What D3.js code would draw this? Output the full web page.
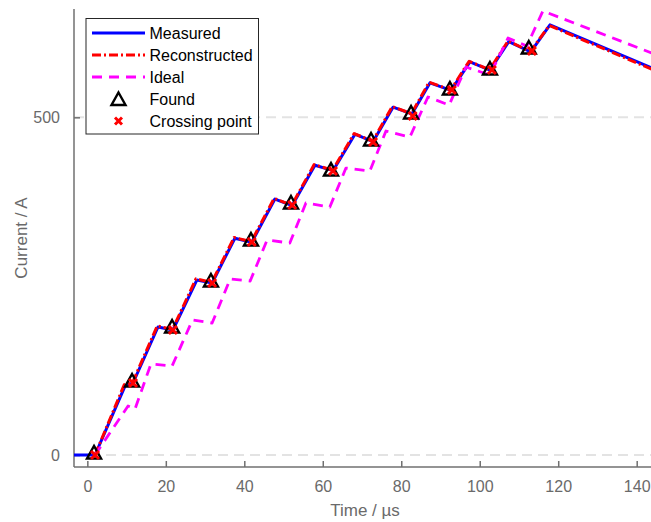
<!DOCTYPE html>
<html>
<head>
<meta charset="utf-8">
<script src="https://cdn.jsdelivr.net/npm/d3@7"></script>
<style>
  html, body { margin: 0; padding: 0; background: #fff; }
  svg { display: block; font-family: "Liberation Sans", Arial, Helvetica, sans-serif; }
</style>
</head>
<body>
<svg id="chart" width="651" height="522"></svg>
<script>
// ---- Data (time in µs, current in A) ----
const measuredT = [-3.4, 1.96, 9.6, 11.64, 18.0, 21.8, 27.9, 31.8, 37.6, 41.9, 47.8, 52.2, 58.0, 62.6, 68.2, 72.8, 77.9, 82.7, 87.3, 92.7, 97.5, 102.6, 107.4, 113.0, 117.9, 143.9];
const measuredI = [0, 0, 102, 106.6, 189.5, 185, 259, 254.7, 321, 315, 379, 369.4, 429, 421, 475, 464, 515, 505, 551, 540, 582, 570, 612, 597, 637, 573];

const reconT = [1.96, 9.4, 11.5, 17.8, 21.7, 27.7, 31.7, 37.4, 41.8, 47.6, 52.1, 57.8, 62.5, 68.0, 72.7, 77.7, 82.6, 87.1, 92.6, 97.3, 102.5, 107.2, 112.9, 117.7, 143.9];
const reconI = [0, 104, 107, 191, 186, 261, 255.5, 322, 316, 380, 370, 430, 421.5, 476, 464.5, 516, 505.5, 552, 540.5, 583, 570.5, 613, 597.5, 636, 571];

const idealT = [1.96, 10.37, 12.15, 16.2, 21.6, 26.8, 31.8, 36.4, 41.5, 45.8, 51.6, 55.7, 61.8, 65.9, 72.0, 76.1, 82.2, 86.8, 92.2, 96.5, 102.6, 107.2, 112.0, 116.1, 143.9];
const idealI = [0, 72.5, 68.1, 134.7, 131.8, 199.9, 195.4, 260.6, 257.6, 318.3, 313.9, 373.1, 367.2, 424.9, 420.5, 479.7, 470.8, 530.1, 518.2, 574.5, 562.6, 617.4, 605.6, 657.4, 595];

const foundT = [1.7, 11.4, 21.6, 31.5, 41.7, 51.9, 62.1, 72.3, 82.5, 92.4, 102.6, 112.5];
const foundI = [3, 109.6, 189.5, 257.6, 318.3, 373.1, 421.9, 466.4, 506.4, 541.9, 571.5, 602.6];

const crossT = [1.96, 11.64, 21.8, 31.8, 41.9, 52.2, 62.6, 72.8, 82.9, 92.9, 103.1, 113.3];
const crossI = [0, 106.6, 185, 254.7, 315.4, 370.2, 420.5, 463.4, 501.9, 540.4, 570.0, 598.2];

const xTicks = [0, 20, 40, 60, 80, 100, 120, 140];
const yTicks = [0, 500];
const legendLabels = ["Measured", "Reconstructed", "Ideal", "Found", "Crossing point"];

// ---- Layout ----
const svg = d3.select("#chart");
const pLeft = 74, pRight = 652, pTop = 9, pBottom = 467;
const x = d3.scaleLinear().domain([-3.4, 143.9]).range([pLeft, pRight]);
const y = d3.scaleLinear().domain([-17.8, 660.4]).range([pBottom, pTop]);

const axisColor = "#707070";
const textColor = "#6a6a6a";

// grid lines (dashed, only at y ticks)
svg.append("g").selectAll("line").data(yTicks).join("line")
  .attr("x1", pLeft).attr("x2", pRight)
  .attr("y1", d => y(d)).attr("y2", d => y(d))
  .attr("stroke", "#e3e3e3").attr("stroke-width", 2)
  .attr("stroke-dasharray", "10,6");

// axes
const xAxis = d3.axisBottom(x).tickValues(xTicks).tickSize(-6).tickPadding(13).tickSizeOuter(0);
const gx = svg.append("g").attr("transform", `translate(0,${pBottom})`).call(xAxis);
const yAxis = d3.axisLeft(y).tickValues(yTicks).tickSize(-6).tickPadding(14).tickSizeOuter(0);
const gy = svg.append("g").attr("transform", `translate(${pLeft},0)`).call(yAxis);
[gx, gy].forEach(g => {
  g.select(".domain").remove();
  g.selectAll(".tick line").attr("stroke", axisColor).attr("stroke-width", 1.5);
  g.selectAll(".tick text").attr("fill", textColor).attr("font-size", 16)
    .attr("font-family", "Liberation Sans, Arial, sans-serif");
});
gx.selectAll(".tick text").attr("dy", "0.72em");
gy.selectAll(".tick text").attr("dy", "0.35em");
// axis lines
svg.append("line").attr("x1", pLeft).attr("x2", pLeft).attr("y1", pTop).attr("y2", pBottom)
  .attr("stroke", axisColor).attr("stroke-width", 1.5);
svg.append("line").attr("x1", pLeft).attr("x2", pRight).attr("y1", pBottom).attr("y2", pBottom)
  .attr("stroke", axisColor).attr("stroke-width", 1.5);

// axis labels
svg.append("text").attr("x", 365).attr("y", 510).attr("text-anchor", "middle")
  .attr("dominant-baseline", "central").attr("font-size", 17).attr("fill", textColor)
  .text("Time / µs");
svg.append("text").attr("transform", "translate(21,238) rotate(-90)").attr("text-anchor", "middle")
  .attr("dominant-baseline", "central").attr("font-size", 17).attr("fill", textColor)
  .text("Current / A");

// clip
svg.append("clipPath").attr("id", "clip").append("rect")
  .attr("x", pLeft).attr("y", pTop - 5).attr("width", pRight - pLeft).attr("height", pBottom - pTop + 5);

const line = d3.line().x(d => x(d[0])).y(d => y(d[1]));
const plot = svg.append("g").attr("clip-path", "url(#clip)");

const zip = (a, b) => a.map((v, i) => [v, b[i]]);

plot.append("path").datum(zip(measuredT, measuredI)).attr("d", line)
  .attr("fill", "none").attr("stroke", "#0000ff").attr("stroke-width", 3).attr("stroke-linejoin", "round");
plot.append("path").datum(zip(reconT, reconI)).attr("d", line)
  .attr("fill", "none").attr("stroke", "#ff0000").attr("stroke-width", 3)
  .attr("stroke-dasharray", "9,3,2,3").attr("stroke-linejoin", "round");
plot.append("path").datum(zip(idealT, idealI)).attr("d", line)
  .attr("fill", "none").attr("stroke", "#ff00ff").attr("stroke-width", 2.8)
  .attr("stroke-dasharray", "10,7").attr("stroke-linejoin", "round");

// markers
const triPath = (cx, cy) => `M${cx},${cy - 7}L${cx + 7},${cy + 5.5}L${cx - 7},${cy + 5.5}Z`;
const xPath = (cx, cy, s) => `M${cx - s},${cy - s}L${cx + s},${cy + s}M${cx - s},${cy + s}L${cx + s},${cy - s}`;

svg.append("g").selectAll("path").data(zip(foundT, foundI)).join("path")
  .attr("d", d => triPath(x(d[0]), y(d[1])))
  .attr("fill", "none").attr("stroke", "#000").attr("stroke-width", 2.4).attr("stroke-linejoin", "miter");
svg.append("g").selectAll("path").data(zip(crossT, crossI)).join("path")
  .attr("d", d => xPath(x(d[0]), y(d[1]), 4))
  .attr("fill", "none").attr("stroke", "#ff0000").attr("stroke-width", 3);

// legend
const lg = svg.append("g");
lg.append("rect").attr("x", 86).attr("y", 18.5).attr("width", 172.5).attr("height", 115.5)
  .attr("fill", "#fff").attr("stroke", "#262626").attr("stroke-width", 1);
const rowsY = [33, 55, 77, 99, 121];
lg.append("line").attr("x1", 92).attr("x2", 145).attr("y1", rowsY[0]).attr("y2", rowsY[0])
  .attr("stroke", "#0000ff").attr("stroke-width", 3);
lg.append("line").attr("x1", 92).attr("x2", 145).attr("y1", rowsY[1]).attr("y2", rowsY[1])
  .attr("stroke", "#ff0000").attr("stroke-width", 3).attr("stroke-dasharray", "9,3,2,3");
lg.append("line").attr("x1", 92).attr("x2", 145).attr("y1", rowsY[2]).attr("y2", rowsY[2])
  .attr("stroke", "#ff00ff").attr("stroke-width", 2.8).attr("stroke-dasharray", "10,7");
lg.append("path").attr("d", triPath(118.5, rowsY[3] + 0.5))
  .attr("fill", "none").attr("stroke", "#000").attr("stroke-width", 2.4);
lg.append("path").attr("d", xPath(118.5, rowsY[4], 3.5))
  .attr("fill", "none").attr("stroke", "#ff0000").attr("stroke-width", 3);
lg.selectAll("text.lab").data(legendLabels).join("text").attr("class", "lab")
  .attr("x", 149.5).attr("y", (d, i) => rowsY[i]).attr("dominant-baseline", "central")
  .attr("font-size", 16).attr("fill", "#000").text(d => d);
</script>
</body>
</html>
